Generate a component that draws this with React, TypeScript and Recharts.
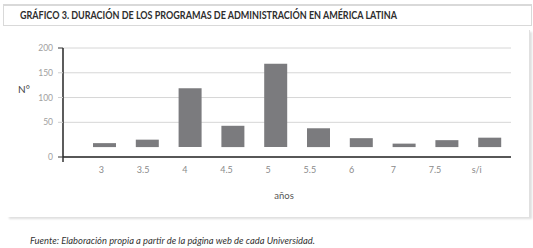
import { Bar, BarChart, CartesianGrid, XAxis, YAxis } from "recharts";

const years = ["3", "3.5", "4", "4.5", "5", "5.5", "6", "7", "7.5", "s/i"];
const programs = [8, 15, 119, 43, 168, 38, 18, 7, 14, 19];
// the chart's zero baseline sits above the drawn axis, so the axis floor is -20
const yTicks = [-20, 50, 100, 150, 200];

const title = "GRÁFICO 3. DURACIÓN DE LOS PROGRAMAS DE ADMINISTRACIÓN EN AMÉRICA LATINA";
const source = "Fuente: Elaboración propia a partir de la página web de cada Universidad.";

const data = years.map((y, i) => ({ name: y, n: programs[i] }));

const font = "Lato, 'Open Sans', sans-serif";

function YTick(props: any) {
  const { x, y, payload } = props;
  const isFloor = payload.value === yTicks[0];
  const dark = isFloor || payload.value === 200;
  return (
    <g>
      <line x1={x - 5} x2={x} y1={y} y2={y} stroke={dark ? "#333" : "#cfcfcf"} strokeWidth={1} />
      {isFloor && <line x1={x} x2={x} y1={y} y2={y + 5} stroke="#333" strokeWidth={1.5} />}
      <text x={x - 10} y={y + 3} textAnchor="end" fontSize={8.5} fill="#a0a0a0" fontFamily={font}>
        {isFloor ? "0" : payload.value}
      </text>
    </g>
  );
}

function XTick(props: any) {
  const { x, y, payload, index } = props;
  const shift = 3 + index * 1.1;
  return (
    <text x={x - shift} y={y + 16} textAnchor="middle" fontSize={9} fill="#8a8a8a" fontFamily={font}>
      {payload.value}
    </text>
  );
}

export default function App() {
  return (
    <div
      style={{
        position: "fixed",
        left: 0,
        top: 0,
        width: 533,
        height: 248,
        background: "#fff",
        overflow: "hidden",
        fontFamily: font,
      }}
    >
      <div
        style={{
          position: "absolute",
          left: 3,
          top: 4,
          width: 527,
          height: 19,
          borderTop: "2px solid #d9d9d9",
          borderLeft: "1px solid #d9d9d9",
          borderRight: "1px solid #d9d9d9",
          borderBottom: "1px solid #d9d9d9",
        }}
      />
      <div
        style={{
          position: "absolute",
          left: 7,
          top: 30,
          width: 522,
          height: 187,
          background: "#fff",
          borderRight: "1px solid #e0e0e0",
          boxShadow: "2px 2px 2px rgba(0,0,0,0.13)",
        }}
      />
      <svg width={533} height={248} style={{ position: "absolute", left: 0, top: 0 }}>
        <text
          x={20}
          y={19}
          fontSize={10.5}
          fontWeight={700}
          fill="#2e2e2e"
          fontFamily={font}
          textLength={377}
          lengthAdjust="spacingAndGlyphs"
        >
          {title}
        </text>
        <text
          x={30}
          y={244}
          fontSize={9}
          fontStyle="italic"
          fill="#333"
          fontFamily={font}
          textLength={285}
          lengthAdjust="spacingAndGlyphs"
        >
          {source}
        </text>
        <text x={24} y={93} textAnchor="middle" fontSize={10} fill="#444" fontFamily={font}>
          N°
        </text>
        <text x={284} y={199} textAnchor="middle" fontSize={9.5} fill="#555" fontFamily={font}>
          años
        </text>
      </svg>
      <div style={{ position: "absolute", left: 0, top: 0 }}>
        <BarChart width={533} height={248} data={data} margin={{ top: 48, right: 22, bottom: 61, left: 23 }}>
          <CartesianGrid horizontal vertical={false} stroke="#d6d6d6" strokeWidth={1} />
          <XAxis
            dataKey="name"
            height={30}
            padding={{ left: 20, right: 0 }}
            tickLine={false}
            tickSize={0}
            tickMargin={0}
            axisLine={{ stroke: "#262626", strokeWidth: 1.5 }}
            tick={<XTick />}
            interval={0}
          />
          <YAxis
            width={40}
            domain={[-20, 200]}
            ticks={yTicks}
            allowDataOverflow
            tickLine={false}
            tickSize={0}
            tickMargin={0}
            axisLine={{ stroke: "#262626", strokeWidth: 1.5 }}
            tick={<YTick />}
            interval={0}
          />
          <Bar dataKey="n" fill="#7b7b7e" barSize={23} isAnimationActive={false} />
        </BarChart>
      </div>
    </div>
  );
}
